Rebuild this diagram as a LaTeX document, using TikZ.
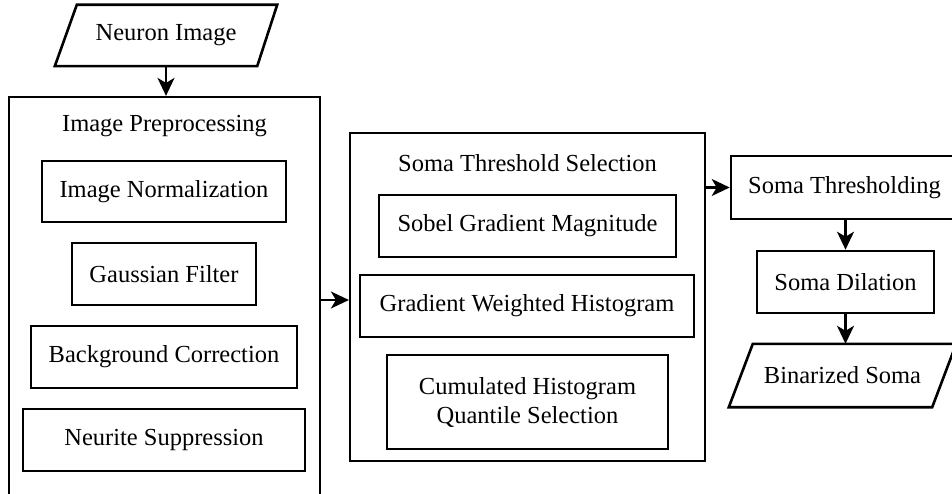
\documentclass[tikz,border=0pt]{standalone}
\usepackage{fontspec}
\setmainfont{Liberation Serif}
\usetikzlibrary{arrows.meta,calc}
\begin{document}
\begin{tikzpicture}[x=1pt,y=-1pt,
  every node/.style={font=\fontsize{24.5}{29}\selectfont, inner sep=0pt},
  box/.style={draw, line width=2.6pt, minimum height=62pt},
  outer/.style={draw, line width=2.2pt},
  arr/.style={line width=2.2pt, -{Stealth[length=18pt,width=17pt,inset=5pt]}}]
\useasboundingbox (0,0) rectangle (952,494);
\fill[white] (0,0) rectangle (952,494);
\clip (0,0) rectangle (952,494);

% input
\node[minimum width=222pt, minimum height=61pt] (inimg) at (166,35.5) {Neuron Image};
\draw[line width=2.6pt, line join=miter]
  ([xshift=22pt]inimg.north west) -- (inimg.north east)
  -- ([xshift=-20pt]inimg.south east) -- (inimg.south west) -- cycle;

% preprocessing
\node[outer, minimum width=311pt, minimum height=406pt] (prep) at (164.5,300) {};
\node (preptitle) at (164.5,126) {Image Preprocessing};
\node[box, minimum width=244pt, minimum height=61pt] (norm) at (164,191.5) {Image Normalization};
\node[box, minimum width=184pt] (gauss) at (164,274) {Gaussian Filter};
\node[box, minimum width=266pt] (bg) at (164,357) {Background Correction};
\node[box, minimum width=282pt] (neur) at (164,440) {Neurite Suppression};

% soma threshold selection
\node[outer, minimum width=355pt, minimum height=328pt] (soma) at (527.5,297) {};
\node (somatitle) at (527.5,163) {Soma Threshold Selection};
\node[box, minimum width=297pt] (sobel) at (527.5,226) {Sobel Gradient Magnitude};
\node[box, minimum width=334pt] (gwh) at (527,306) {Gradient Weighted Histogram};
\node[box, minimum width=281pt, minimum height=94pt, align=center] (cum) at (527.5,402)
  {Cumulated Histogram\\Quantile Selection};

% right column
\node[box, minimum width=227pt, minimum height=63pt] (thresh) at (844.5,187.5) {Soma Thresholding};
\node[box, minimum width=177pt] (dil) at (845.5,282) {Soma Dilation};
\node[minimum width=227pt, minimum height=63pt] (bin) at (842.5,375.5) {Binarized Soma};
\draw[line width=2.6pt, line join=miter]
  ([xshift=24pt]bin.north west) -- (bin.north east)
  -- ([xshift=-24pt]bin.south east) -- (bin.south west) -- cycle;

% connectors
\draw[arr] (inimg.south) -- (inimg.south |- prep.north);
\draw[arr] (prep.east) -- (prep.east -| soma.west);
\draw[arr] (thresh.west -| soma.east) -- (thresh.west);
\draw[arr] (thresh.south -| dil.north) -- (dil.north);
\draw[arr] (dil.south) -- (dil.south |- bin.north);
\end{tikzpicture}
\end{document}
